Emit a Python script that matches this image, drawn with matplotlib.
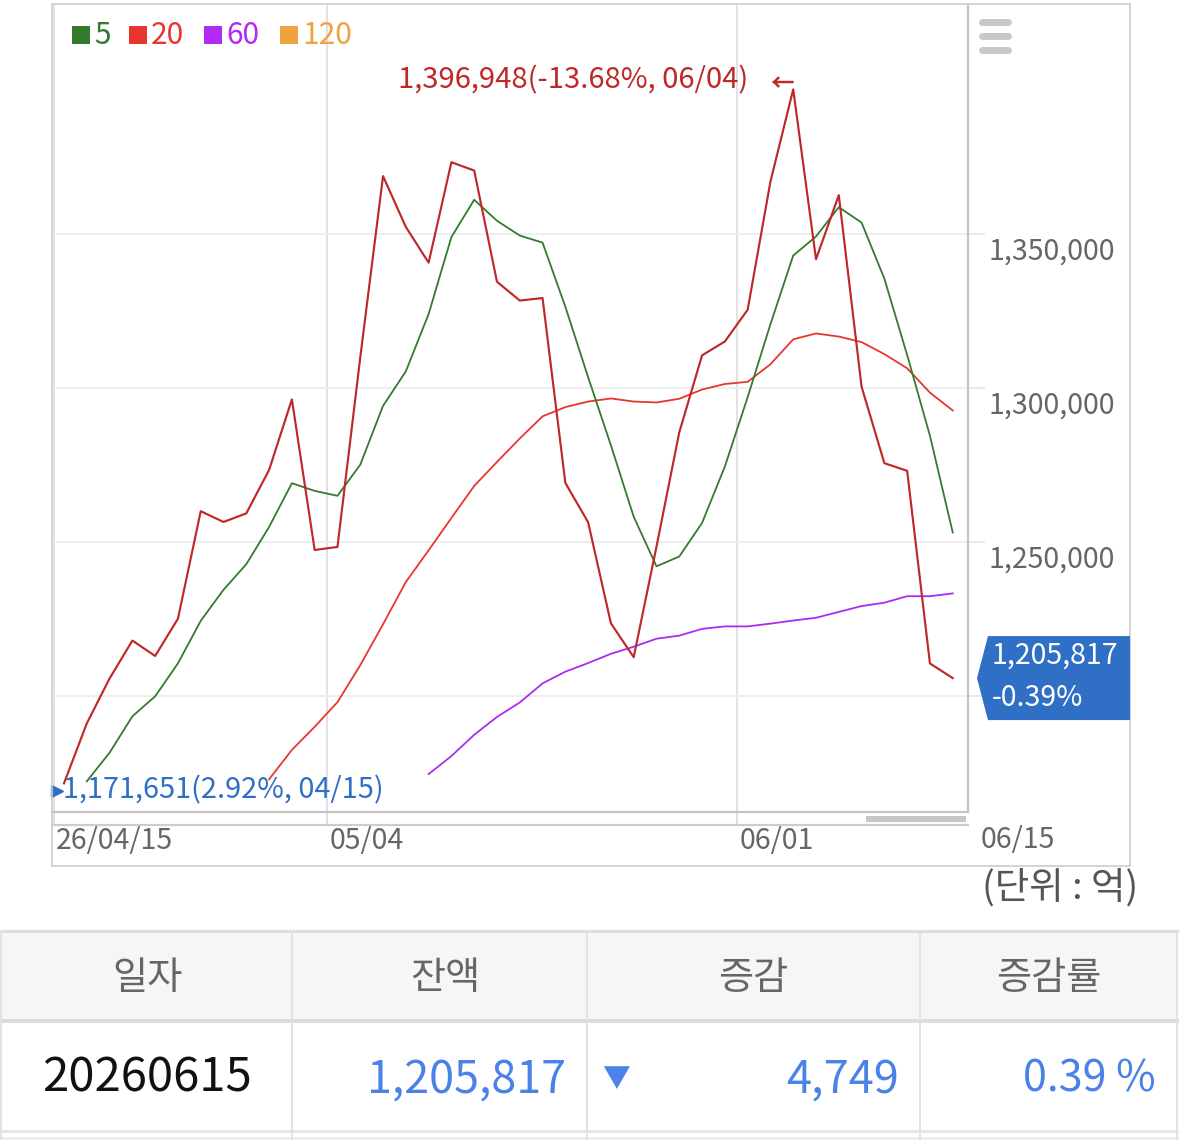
import numpy as np
import matplotlib
matplotlib.use("Agg")
import matplotlib.pyplot as plt
import matplotlib.transforms as mtrans
from matplotlib.patches import Rectangle, Polygon
from matplotlib.lines import Line2D

plt.rcParams['font.family'] = ['Noto Sans CJK KR', 'DejaVu Sans']

# ---------------- data ----------------
balance = [1171651, 1191100, 1205700, 1218000, 1213000, 1225100, 1260000, 1256500,
           1259300, 1273400, 1296300, 1247400, 1248400, 1309900, 1368800, 1352300,
           1340700, 1373300, 1370600, 1334500, 1328400, 1329200, 1269200, 1256400,
           1223600, 1212600, 1248500, 1285600, 1310600, 1315100, 1325400, 1367000,
           1396948, 1341800, 1362600, 1300400, 1275600, 1273100, 1210566, 1205817]
nan = np.nan
ma5 = [nan, 1172300, 1181600, 1193400, 1199900, 1210600, 1224400, 1234500,
       1242800, 1254900, 1269100, 1266600, 1265000, 1275100, 1294200, 1305400,
       1324000, 1349000, 1361100, 1354300, 1349500, 1347200, 1326400, 1303500,
       1281400, 1258200, 1242100, 1245300, 1256200, 1274500, 1297000, 1320700,
       1343000, 1349200, 1358700, 1353700, 1335500, 1310700, 1284500, 1253100]
ma20 = [nan] * 9 + [1172950, 1182500, 1190000, 1198000, 1210000, 1223300, 1237000,
                    1247300, 1257800, 1268200, 1276000, 1283600, 1290800, 1293800,
                    1295600, 1296600, 1295600, 1295300, 1296500, 1299500, 1301300,
                    1302000, 1307700, 1315800, 1317700, 1316700, 1314900, 1311000,
                    1306400, 1298500, 1292700]
ma60 = [nan] * 16 + [1174650, 1180500, 1187400, 1193200, 1197900, 1204100, 1207900,
                     1210700, 1213700, 1216000, 1218600, 1219600, 1221800, 1222600,
                     1222600, 1223500, 1224500, 1225400, 1227300, 1229200, 1230300,
                     1232400, 1232400, 1233300]
ma120 = [nan] * 40

legend_labels = ["5", "20", "60", "120"]
x_tick_idx = [0, 12, 30]
x_tick_labels = ["26/04/15", "05/04", "06/01"]
x_end_label = "06/15"
y_ticks = [1200000, 1250000, 1300000, 1350000]
y_tick_labels = ["", "1,250,000", "1,300,000", "1,350,000"]  # 1,200,000 sits under the value box

max_label = "1,396,948(-13.68%, 06/04)"
min_label = "1,171,651(2.92%, 04/15)"
last_label = ["1,205,817", "-0.39%"]
unit_label = "(단위 : 억)"
table_header = ["일자", "잔액", "증감", "증감률"]
table_row = ["20260615", "1,205,817", "4,749", "0.39 %"]

# ---------------- style ----------------
C_MAIN = '#bf2828'
C_MA5 = '#357a2f'
C_MA20 = '#e8362f'
C_MA60 = '#aa2cf2'
C_MA120 = '#f0a23e'
LEG_COLORS = ['#357a2f', '#e83530', '#b02cf5', '#f0a23e']
C_BLUE = '#2f6fc6'
C_TBL_BLUE = '#4a82e8'

W, H = 1179, 1140
fig = plt.figure(figsize=(W / 100, H / 100), dpi=100)
px = mtrans.Affine2D().scale(1 / W, -1 / H).translate(0, 1) + fig.transFigure

L, R, T, B = 52, 968, 5, 812
ax = fig.add_axes([L / W, 1 - B / H, (R - L) / W, (B - T) / H])
x = np.arange(len(balance))
ax.plot(x, ma120, color=C_MA120, lw=1.3, zorder=2)
ax.plot(x, ma60, color=C_MA60, lw=1.3, zorder=3)
ax.plot(x, ma20, color=C_MA20, lw=1.3, zorder=4)
ax.plot(x, ma5, color=C_MA5, lw=1.3, zorder=5)
ax.plot(x, balance, color=C_MAIN, lw=1.55, zorder=6)
ax.set_xlim(-0.527, 39.67)
ax.set_ylim(1162340, 1424350)

for s in ['top', 'left']:
    ax.spines[s].set_visible(False)
for s in ['right', 'bottom']:
    ax.spines[s].set_color('#c4c4c4')
    ax.spines[s].set_linewidth(1.6)

# y axis on the right
ax.yaxis.tick_right()
ax.set_yticks(y_ticks)
ax.set_yticklabels(y_tick_labels)
ax.tick_params(axis='y', length=12, width=1.2, color='#e4e4e4', labelsize=20.5,
               labelcolor='#666666', pad=3)
yoff = mtrans.ScaledTranslation(0, -14 / 100, fig.dpi_scale_trans)
for lbl in ax.get_yticklabels():
    lbl.set_transform(lbl.get_transform() + yoff)

# x axis
ax.set_xticks([i - 0.45 for i in x_tick_idx])
ax.set_xticklabels(x_tick_labels)
ax.tick_params(axis='x', length=9.4, width=1.3, color='#dcdcdc', labelsize=20.5,
               labelcolor='#666666', pad=0.5)
xoff = mtrans.ScaledTranslation(2 / 100, 0, fig.dpi_scale_trans)
for lbl in ax.get_xticklabels():
    lbl.set_ha('left')
    lbl.set_transform(lbl.get_transform() + xoff)

ax.grid(axis='y', color='#eeeeee', lw=1.4)
ax.grid(axis='x', color='#e2e2e2', lw=1.4)
ax.set_axisbelow(True)

ax.text(1.0 + 13 / (R - L), -13 / (B - T), x_end_label, transform=ax.transAxes,
        ha='left', va='top', fontsize=20.5, color='#666666')

# navigator
fig.add_artist(Line2D([L, R], [825, 825], transform=px, color='#cccccc', lw=1.6))
fig.add_artist(Rectangle((866, 816), 100, 6, transform=px, color='#c6c6c6', lw=0))
# outer border
fig.add_artist(Rectangle((52, 4), 1078, 862, transform=px, fill=False,
                         edgecolor='#cccccc', lw=1.2))

# legend
leg_sq_x = [72, 129, 204, 280]
for lx, lab, col in zip(leg_sq_x, legend_labels, LEG_COLORS):
    fig.add_artist(Rectangle((lx, 26), 18, 18, transform=px, color=col, lw=0))
    fig.text(lx + 22, 36, lab, transform=px, ha='left', va='center',
             fontsize=21.5, color=col)

# menu icon
for yy in [21.5, 35.5, 49.5]:
    fig.add_artist(Line2D([982, 1008], [yy, yy], transform=px, color='#c8c8c8',
                          lw=5, solid_capstyle='round'))

# max / min annotations
imax = int(np.argmax(balance))
imin = int(np.argmin(balance))
ax.annotate(max_label, xy=(imax, balance[imax]), xytext=(-45 * 0.72, 9 * 0.72),
            textcoords='offset points', ha='right', va='center', fontsize=21,
            color=C_MAIN, zorder=10)
ax.annotate('←', xy=(imax, balance[imax]), xytext=(-11 * 0.72, 5 * 0.72),
            textcoords='offset points', ha='center', va='center', fontsize=17,
            fontweight='bold', color=C_MAIN, zorder=10)
ax.annotate(min_label, xy=(imin, balance[imin]), xytext=(-1 * 0.72, -7 * 0.72),
            textcoords='offset points', ha='left', va='center', fontsize=20.8,
            color=C_BLUE, zorder=10)
moff = mtrans.ScaledTranslation(-7 / 100, -8 / 100, fig.dpi_scale_trans)
ax.plot([imin], [balance[imin]], marker='>', ms=8, color=C_BLUE, clip_on=False,
        transform=ax.transData + moff, zorder=10)

# last value box
fig.canvas.draw()
y_last = H - ax.transData.transform((len(balance) - 1, balance[-1]))[1]
box = Polygon([(977, y_last), (988, y_last - 42), (1130, y_last - 42),
               (1130, y_last + 42), (988, y_last + 42)], closed=True,
              transform=px, facecolor=C_BLUE, edgecolor='none', zorder=20)
fig.add_artist(box)
fig.text(992, y_last - 22, last_label[0], transform=px, ha='left', va='center',
         fontsize=20.5, color='white', zorder=21)
fig.text(992, y_last + 20, last_label[1], transform=px, ha='left', va='center',
         fontsize=20.5, color='white', zorder=21)

# unit label
fig.text(1138, 888, unit_label, transform=px, ha='right', va='center',
         fontsize=27, color='#555555')

# table
fig.add_artist(Rectangle((0, 932), 1177, 88, transform=px, facecolor='#f6f6f6',
                         edgecolor='none'))
fig.add_artist(Line2D([0, 1177], [931, 931], transform=px, color='#dedede', lw=2.2))
fig.add_artist(Line2D([0, 1177], [1021, 1021], transform=px, color='#dcdcdc', lw=2.8))
fig.add_artist(Line2D([0, 1177], [1131, 1131], transform=px, color='#e6e6e6', lw=2.0))
fig.add_artist(Line2D([0, 1177], [1137.5, 1137.5], transform=px, color='#ececec', lw=2.0))
for cx in [1, 292, 587, 920, 1177]:
    fig.add_artist(Line2D([cx, cx], [932, 1140], transform=px, color='#e2e2e2', lw=1.4))

for cx, txt in zip([147, 445, 753, 1049], table_header):
    fig.text(cx, 978, txt, transform=px, ha='center', va='center', fontsize=27.5,
             color='#666666')

fig.text(147, 1078, table_row[0], transform=px, ha='center', va='center',
         fontsize=34, color='#111111')
fig.text(566, 1080, table_row[1], transform=px, ha='right', va='center',
         fontsize=32.3, color=C_TBL_BLUE)
fig.text(616, 1079, '▼', transform=px, ha='center', va='center',
         fontsize=20, color=C_TBL_BLUE)
fig.text(899, 1080, table_row[2], transform=px, ha='right', va='center',
         fontsize=32.5, color=C_TBL_BLUE)
fig.text(1156, 1080, table_row[3], transform=px, ha='right', va='center',
         fontsize=31, color=C_TBL_BLUE)

fig.savefig("out.png", dpi=100)
